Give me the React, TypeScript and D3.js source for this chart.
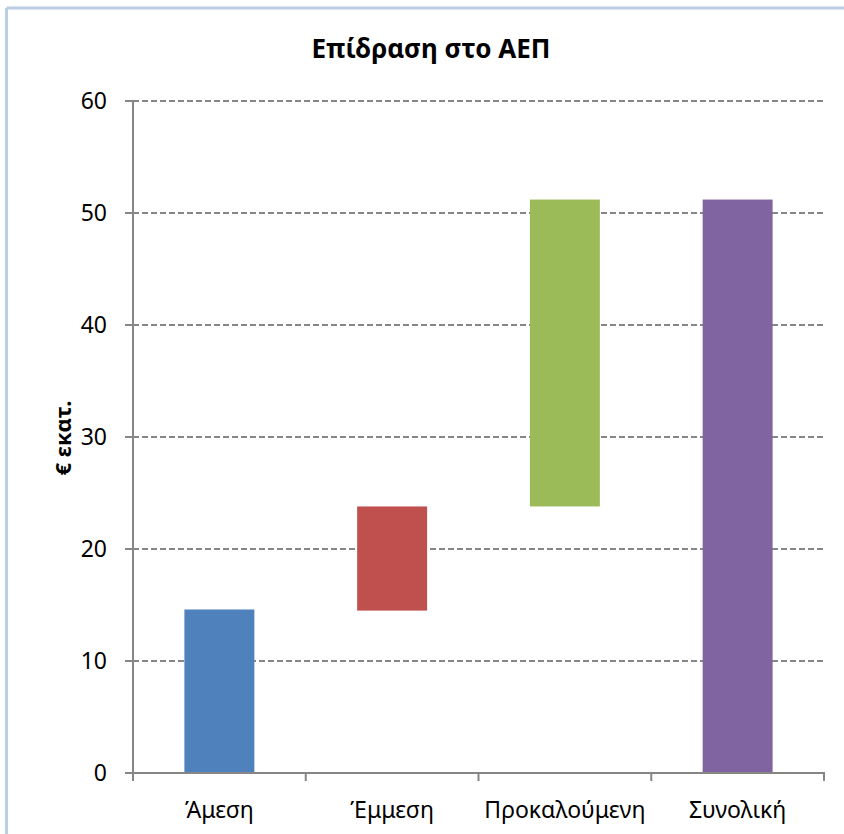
import * as d3 from "d3";

const CATEGORIES = ["Άμεση", "Έμμεση", "Προκαλούμενη", "Συνολική"];
// floating bars: bottom and top of each step (€ million)
const LOWS = [0, 14.5, 23.8, 0];
const HIGHS = [14.6, 23.8, 51.2, 51.2];
const COLORS = ["#4f81bd", "#c0504d", "#9bbb59", "#8064a2"];
const Y_TICKS = [0, 10, 20, 30, 40, 50, 60];

const TITLE = "Επίδραση στο ΑΕΠ";
const Y_LABEL = "€ εκατ.";

const W = 844;
const H = 834;
const LEFT = 133;
const RIGHT = 824;
const TOP = 101;
const BOTTOM = 773;
const AXIS = "#868686";
const FONT = "'Noto Sans', 'Open Sans', sans-serif";

export default function App() {
  const x = d3.scaleBand<string>().domain(CATEGORIES).range([LEFT, RIGHT]).paddingInner(0.595).paddingOuter(0.2975);
  const y = d3.scaleLinear().domain([0, 60]).range([BOTTOM, TOP]);
  const step = x.step();
  const edges = d3.range(CATEGORIES.length + 1).map((i) => LEFT + i * step);

  return (
    <svg
      width={W}
      height={H}
      style={{ position: "absolute", left: 0, top: 0, display: "block", background: "#fff" }}
      fontFamily={FONT}
    >
      {/* chart area border */}
      <line x1={6.5} y1={8} x2={W} y2={8} stroke="#b9cde5" strokeWidth={3} />
      <line x1={6.5} y1={8} x2={6.5} y2={H} stroke="#b9cde5" strokeWidth={3} />

      <text x={431} y={58} textAnchor="middle" fontSize={26} fontWeight="bold" fill="#000">
        {TITLE}
      </text>

      {/* gridlines */}
      {Y_TICKS.filter((t) => t > 0).map((t) => (
        <line
          key={t}
          x1={LEFT}
          x2={RIGHT + 1}
          y1={y(t)}
          y2={y(t)}
          stroke={AXIS}
          strokeWidth={2}
          strokeDasharray="6 3"
        />
      ))}

      {/* bars */}
      {CATEGORIES.map((c, i) => (
        <rect
          key={c}
          x={x(c)}
          width={x.bandwidth()}
          y={y(HIGHS[i])}
          height={y(LOWS[i]) - y(HIGHS[i])}
          fill={COLORS[i]}
        />
      ))}

      {/* y axis */}
      <line x1={LEFT} x2={LEFT} y1={TOP} y2={BOTTOM} stroke={AXIS} strokeWidth={2} />
      {Y_TICKS.map((t) => (
        <g key={t}>
          <line x1={LEFT - 8} x2={LEFT} y1={y(t)} y2={y(t)} stroke={AXIS} strokeWidth={2} />
          <text x={107} y={y(t)} dy="0.36em" textAnchor="end" fontSize={23} fill="#000">
            {t}
          </text>
        </g>
      ))}

      {/* x axis */}
      <line x1={LEFT - 8} x2={RIGHT + 1} y1={BOTTOM} y2={BOTTOM} stroke={AXIS} strokeWidth={2} />
      {edges.map((ex, i) => (
        <line key={i} x1={ex} x2={ex} y1={BOTTOM} y2={BOTTOM + 8} stroke={AXIS} strokeWidth={2} />
      ))}
      {CATEGORIES.map((c) => (
        <text key={c} x={(x(c) ?? 0) + x.bandwidth() / 2} y={818} textAnchor="middle" fontSize={23} fill="#000">
          {c}
        </text>
      ))}

      <text
        transform={`translate(71, 438) rotate(-90)`}
        textAnchor="middle"
        fontSize={22}
        fontWeight="bold"
        fill="#000"
      >
        {Y_LABEL}
      </text>
    </svg>
  );
}
